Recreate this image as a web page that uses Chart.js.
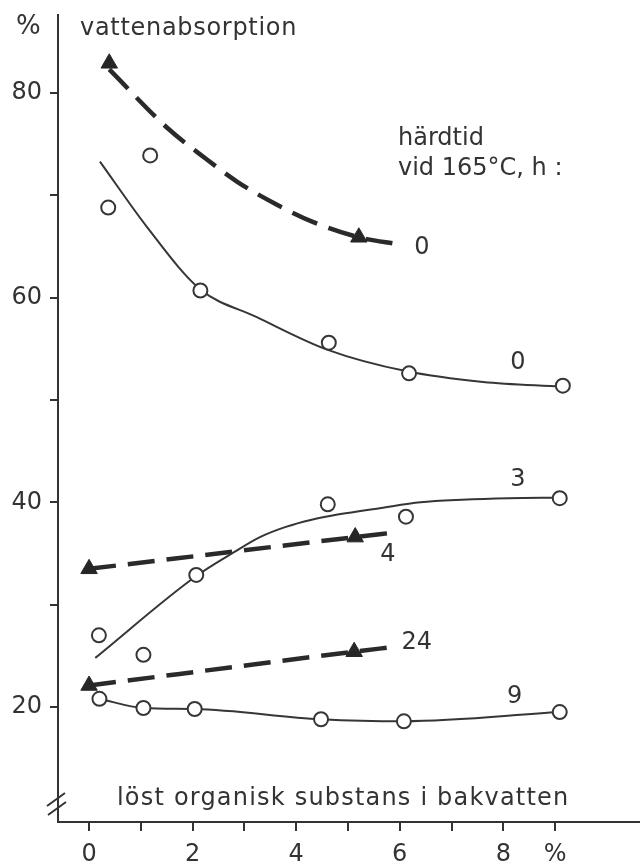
<!DOCTYPE html>
<html>
<head>
<meta charset="utf-8">
<script src="https://cdn.jsdelivr.net/npm/chart.js@4.4.0/dist/chart.umd.min.js"></script>
<style>
  html, body { margin: 0; padding: 0; background: #fff; }
  #chart { display: block; }
</style>
</head>
<body>
<canvas id="chart" width="640" height="868"></canvas>
<script>
// ---- data ----
const xTicks      = [0, 1, 2, 3, 4, 5, 6, 7, 8, 9];
const xTickLabels = ['0', '', '2', '', '4', '', '6', '', '8', '%'];
const yTicks      = [20, 30, 40, 50, 60, 70, 80];
const yTickLabels = ['20', '', '40', '', '60', '', '80'];

// open circles + fitted solid curves (härdtid 0, 3, 9 h)
const circ0X = [0.37, 1.18, 2.15, 4.63, 6.18, 9.15];
const circ0Y = [68.8, 73.9, 60.7, 55.6, 52.6, 51.4];
const fit0X  = [0.21, 1.12, 2.14, 3.24, 4.61, 6.14, 7.61, 9.11];
const fit0Y  = [73.3, 66.9, 60.85, 58.1, 54.9, 52.8, 51.76, 51.3];

const circ3X = [0.19, 1.05, 2.07, 4.61, 6.12, 9.09];
const circ3Y = [27.0, 25.1, 32.9, 39.8, 38.6, 40.4];
const fit3X  = [0.12, 2.07, 2.79, 3.3, 3.8, 4.3, 4.8, 5.64, 6.4, 7.2, 8.1, 9.09];
const fit3Y  = [24.8, 32.8, 35.1, 36.6, 37.6, 38.3, 38.8, 39.45, 40.0, 40.25, 40.4, 40.45];

const circ9X = [0.2, 1.05, 2.04, 4.48, 6.08, 9.09];
const circ9Y = [20.8, 19.9, 19.8, 18.8, 18.6, 19.5];

// filled triangles + dashed curves (härdtid 0, 4, 24 h)
const tri0X  = [0.39, 5.21];
const tri0Y  = [82.9, 65.9];
const dash0X = [0.39, 1.53, 2.25, 2.87, 3.62, 4.32, 5.21, 5.99];
const dash0Y = [82.3, 76.5, 73.6, 71.3, 69.1, 67.4, 65.9, 65.2];

const tri4X  = [0, 5.14];
const tri4Y  = [33.5, 36.6];
const dash4X = [0, 5.14, 5.9];
const dash4Y = [33.5, 36.6, 37.05];

const tri24X  = [0, 5.12];
const tri24Y  = [22.1, 25.4];
const dash24X = [0, 5.12, 5.85];
const dash24Y = [22.1, 25.4, 25.85];

// curve labels, anchored in data units
const curveLabels = ['0', '0', '3', '4', '24', '9'];
const curveLabelX = [6.43, 8.28, 8.28, 5.77, 6.33, 8.22];
const curveLabelY = [64.85, 53.6, 42.2, 34.9, 26.3, 21.0];

// ---- chart ----
const ink  = '#333333';
const FONT = "'DejaVu Sans', sans-serif";

const pts = (xs, ys) => xs.map((x, i) => ({ x, y: ys[i] }));

function solidLine(xs, ys) {
  return { data: pts(xs, ys), showLine: true, cubicInterpolationMode: 'monotone',
    borderColor: '#363636', borderWidth: 2, pointRadius: 0, fill: false, order: 1 };
}
function dashLine(xs, ys) {
  return { data: pts(xs, ys), showLine: true, cubicInterpolationMode: 'monotone',
    borderColor: '#2a2a2a', borderWidth: 4.5, borderDash: [27, 12], pointRadius: 0, fill: false, order: 1 };
}
function circles(xs, ys) {
  return { data: pts(xs, ys), showLine: false, pointStyle: 'circle', pointRadius: 7,
    pointBackgroundColor: '#fff', pointBorderColor: '#363636', pointBorderWidth: 2, order: 0 };
}
function triangles(xs, ys) {
  return { data: pts(xs, ys), showLine: false, pointStyle: 'triangle', pointRadius: 9.5,
    pointBackgroundColor: '#262626', pointBorderColor: '#262626', pointBorderWidth: 1, order: 0 };
}

const textPlugin = {
  id: 'texts',
  afterDraw(chart) {
    const ctx = chart.ctx;
    const sx = chart.scales.x, sy = chart.scales.y;
    const ca = chart.chartArea;
    ctx.save();
    ctx.fillStyle = ink;
    ctx.textBaseline = 'alphabetic';
    ctx.textAlign = 'left';

    ctx.font = '26px ' + FONT;
    ctx.fillText('%', 16, 34);
    ctx.font = '24px ' + FONT;
    ctx.letterSpacing = '0.7px';
    ctx.fillText('vattenabsorption', 80, 35);
    ctx.letterSpacing = '0px';
    ctx.fillText('härdtid', 398, 145);
    ctx.fillText('vid 165°C, h :', 398, 175);
    ctx.letterSpacing = '1.2px';
    ctx.fillText('löst organisk substans i bakvatten', 117, 805);
    ctx.letterSpacing = '0px';

    ctx.textAlign = 'center';
    ctx.textBaseline = 'middle';
    curveLabels.forEach((t, i) => {
      ctx.fillText(t, sx.getPixelForValue(curveLabelX[i]), sy.getPixelForValue(curveLabelY[i]));
    });

    // axis break marks on the y axis
    ctx.strokeStyle = ink;
    ctx.lineWidth = 2;
    ctx.beginPath();
    ctx.moveTo(ca.left - 11, 806); ctx.lineTo(ca.left + 7, 793);
    ctx.moveTo(ca.left - 10, 815); ctx.lineTo(ca.left + 8, 802);
    ctx.stroke();
    ctx.restore();
  }
};

new Chart(document.getElementById('chart'), {
  type: 'scatter',
  data: {
    datasets: [
      solidLine(fit0X, fit0Y),
      solidLine(fit3X, fit3Y),
      solidLine(circ9X, circ9Y),
      dashLine(dash0X, dash0Y),
      dashLine(dash4X, dash4Y),
      dashLine(dash24X, dash24Y),
      circles(circ0X, circ0Y),
      circles(circ3X, circ3Y),
      circles(circ9X, circ9Y),
      triangles(tri0X, tri0Y),
      triangles(tri4X, tri4Y),
      triangles(tri24X, tri24Y),
    ]
  },
  options: {
    responsive: false,
    animation: false,
    devicePixelRatio: 1,
    layout: { autoPadding: false, padding: { top: 15, right: 0, left: 0, bottom: 0 } },
    plugins: { legend: { display: false }, tooltip: { enabled: false } },
    scales: {
      x: {
        type: 'linear', position: 'bottom', min: -0.6, max: 10.64,
        afterBuildTicks: s => { s.ticks = xTicks.map(v => ({ value: v })); },
        afterFit: s => { s.height = 46; s.paddingLeft = 0; s.paddingRight = 0; },
        grid: { drawOnChartArea: false, drawTicks: true, tickLength: 9, color: ink, lineWidth: 2 },
        border: { display: true, color: ink, width: 2 },
        ticks: {
          color: ink, padding: 9, maxRotation: 0, autoSkip: false,
          font: { family: FONT, size: 24 },
          callback: v => xTickLabels[xTicks.indexOf(v)] ?? ''
        }
      },
      y: {
        type: 'linear', position: 'left', min: 8.76, max: 87.62,
        afterBuildTicks: s => { s.ticks = yTicks.map(v => ({ value: v })); },
        afterFit: s => { s.width = 58; s.paddingTop = 0; s.paddingBottom = 0; },
        grid: { drawOnChartArea: false, drawTicks: true, tickLength: 8, color: ink, lineWidth: 2 },
        border: { display: true, color: ink, width: 2 },
        ticks: {
          color: ink, padding: 8, autoSkip: false,
          font: { family: FONT, size: 24 },
          callback: v => yTickLabels[yTicks.indexOf(v)] ?? ''
        }
      }
    }
  },
  plugins: [textPlugin]
});
</script>
</body>
</html>
